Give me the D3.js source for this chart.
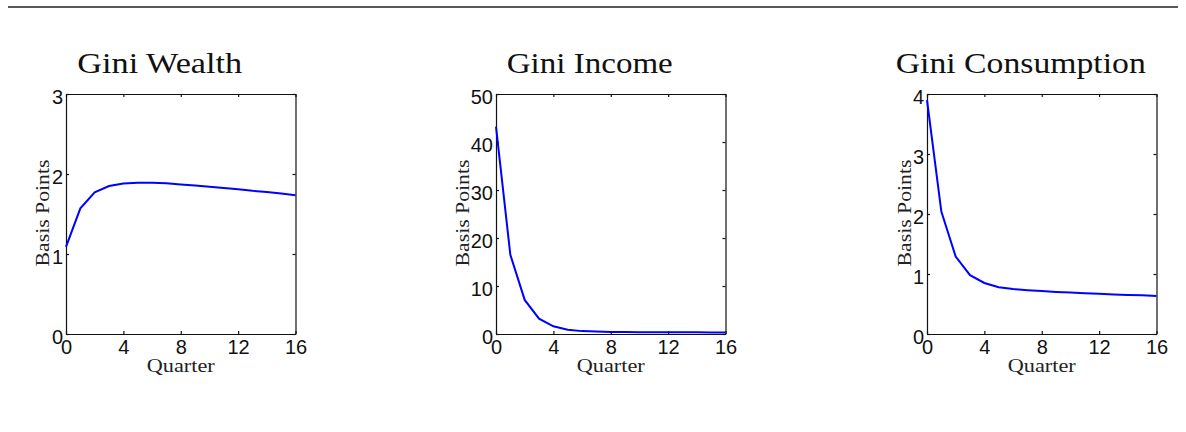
<!DOCTYPE html>
<html>
<head>
<meta charset="utf-8">
<script src="https://d3js.org/d3.v7.min.js"></script>
<style>
  body { margin: 0; background: #fff; }
  svg { display: block; }
</style>
</head>
<body>
<div id="chart"></div>
<script>
// Chart data
var quarters = d3.range(0, 17);
var xTicks = [0, 4, 8, 12, 16];

var titles = ["Gini Wealth", "Gini Income", "Gini Consumption"];
var titleWidths = [165, 166, 250];

var giniWealth = [1.09, 1.57, 1.77, 1.85, 1.88, 1.89, 1.89, 1.885, 1.87, 1.855, 1.84, 1.825, 1.81, 1.79, 1.775, 1.755, 1.735];
var giniIncome = [43.2, 16.5, 7.1, 3.2, 1.6, 0.9, 0.6, 0.5, 0.42, 0.4, 0.38, 0.37, 0.36, 0.35, 0.34, 0.33, 0.32];
var giniConsumption = [3.9, 2.04, 1.29, 0.98, 0.85, 0.78, 0.75, 0.73, 0.715, 0.70, 0.69, 0.68, 0.67, 0.66, 0.65, 0.645, 0.635];

var yMax = [3, 50, 4];
var yTicks = [[0, 1, 2, 3], [0, 10, 20, 30, 40, 50], [0, 1, 2, 3, 4]];
var series = [giniWealth, giniIncome, giniConsumption];

// SVG area
var svgWidth = 1186;
var svgHeight = 432;
var plotLefts = [66, 496, 927];
var ylabelOffsets = [-17, -27, -16];
var plotTop = 94;
var plotWidth = 229.5;
var plotHeight = 240;

var svg = d3.select("#chart")
  .append("svg")
  .attr("width", svgWidth)
  .attr("height", svgHeight);

// rule across the top
svg.append("line")
  .attr("x1", 8).attr("x2", 1178)
  .attr("y1", 7).attr("y2", 7)
  .attr("stroke", "#222")
  .attr("stroke-width", 1.3);

titles.forEach(function(title, i) {
  var g = svg.append("g")
    .attr("transform", `translate(${plotLefts[i]}, ${plotTop})`);

  var xScale = d3.scaleLinear().domain([0, 16]).range([0, plotWidth]);
  var yScale = d3.scaleLinear().domain([0, yMax[i]]).range([plotHeight, 0]);

  // axes with inward ticks, MATLAB box style
  var bottomAxis = d3.axisBottom(xScale).tickValues(xTicks).tickFormat(d3.format("d"))
    .tickSizeInner(-3).tickSizeOuter(0).tickPadding(6);
  var leftAxis = d3.axisLeft(yScale).tickValues(yTicks[i]).tickFormat(d3.format("d"))
    .tickSizeInner(-3).tickSizeOuter(0).tickPadding(3);
  var topAxis = d3.axisTop(xScale).tickValues(xTicks)
    .tickSizeInner(-3).tickSizeOuter(0).tickFormat("");
  var rightAxis = d3.axisRight(yScale).tickValues(yTicks[i])
    .tickSizeInner(-3).tickSizeOuter(0).tickFormat("");

  var axes = [
    g.append("g").attr("transform", `translate(0, ${plotHeight})`).call(bottomAxis),
    g.append("g").call(leftAxis),
    g.append("g").call(topAxis),
    g.append("g").attr("transform", `translate(${plotWidth}, 0)`).call(rightAxis)
  ];
  axes.forEach(function(a) {
    a.selectAll("path, line").attr("stroke", "#111").attr("stroke-width", 1.2);
    a.selectAll("text")
      .attr("font-family", "'Liberation Sans', Arial, sans-serif")
      .attr("font-size", 20)
      .attr("fill", "#111");
  });
  axes[1].selectAll("text").attr("dy", "0.48em");

  // the line
  var line = d3.line()
    .x(function(d, j) { return xScale(quarters[j]); })
    .y(function(d) { return yScale(d); });

  g.append("path")
    .datum(series[i])
    .attr("fill", "none")
    .attr("stroke", "#0000ff")
    .attr("stroke-width", 2)
    .attr("d", line);

  // title
  g.append("text")
    .attr("x", plotWidth / 2 - 21)
    .attr("y", -21)
    .attr("text-anchor", "middle")
    .attr("font-family", "'Liberation Serif', serif")
    .attr("font-size", 29)
    .attr("fill", "#111")
    .attr("textLength", titleWidths[i])
    .attr("lengthAdjust", "spacingAndGlyphs")
    .text(title);

  // axis labels
  g.append("text")
    .attr("transform", "rotate(-90)")
    .attr("x", -plotHeight / 2 + 1)
    .attr("y", ylabelOffsets[i])
    .attr("text-anchor", "middle")
    .attr("font-family", "'Liberation Serif', serif")
    .attr("font-size", 18)
    .attr("fill", "#222")
    .attr("textLength", 107)
    .attr("lengthAdjust", "spacingAndGlyphs")
    .text("Basis Points");

  g.append("text")
    .attr("x", plotWidth / 2)
    .attr("y", plotHeight + 38)
    .attr("text-anchor", "middle")
    .attr("font-family", "'Liberation Serif', serif")
    .attr("font-size", 18)
    .attr("fill", "#222")
    .attr("textLength", 68)
    .attr("lengthAdjust", "spacingAndGlyphs")
    .text("Quarter");
});
</script>
</body>
</html>
